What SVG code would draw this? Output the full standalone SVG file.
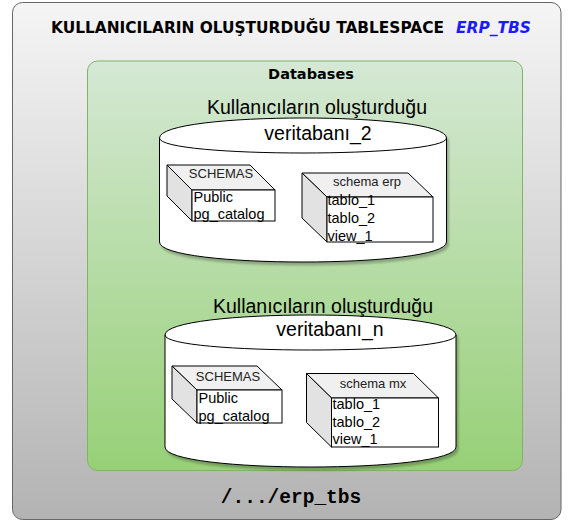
<svg xmlns="http://www.w3.org/2000/svg" width="574" height="523" viewBox="0 0 574 523">
  <defs>
    <linearGradient id="gGray" x1="0" y1="0" x2="0" y2="1">
      <stop offset="0" stop-color="#f5f5f5"/>
      <stop offset="1" stop-color="#b3b3b3"/>
    </linearGradient>
    <linearGradient id="gGreen" x1="0" y1="0" x2="0" y2="1">
      <stop offset="0" stop-color="#d5e8d4"/>
      <stop offset="1" stop-color="#97d077"/>
    </linearGradient>
    <filter id="shadow" x="-5%" y="-5%" width="115%" height="120%">
      <feDropShadow dx="2" dy="3" stdDeviation="1.2" flood-color="#000" flood-opacity="0.25"/>
    </filter>
  </defs>
  <style>
    .outer { fill: url(#gGray); stroke: #666666; stroke-width: 1; }
    .green { fill: url(#gGreen); stroke: #82b366; stroke-width: 1; }
    .cyl { fill: #ffffff; stroke: #000000; stroke-width: 1; }
    .cylin { fill: none; stroke: #000000; stroke-width: 1; }
    .top { fill: #f0f0f0; stroke: #000000; stroke-width: 1; stroke-linejoin: round; }
    .side { fill: #e2e2e2; stroke: #000000; stroke-width: 1; stroke-linejoin: round; }
    .front { fill: #ffffff; stroke: #000000; stroke-width: 1; }
    .title { font-family: "DejaVu Sans", Verdana, sans-serif; font-weight: bold; font-size: 15px; fill: #000000; }
    .erp { font-family: "DejaVu Sans", Verdana, sans-serif; font-weight: bold; font-style: italic; font-size: 15px; fill: #1a1aff; }
    .dbs { font-family: "DejaVu Sans", Verdana, sans-serif; font-weight: bold; font-size: 14.5px; fill: #000000; text-anchor: middle; }
    .big { font-family: "Liberation Sans", Arial, sans-serif; font-size: 19.5px; fill: #000000; text-anchor: middle; }
    .hdr { font-family: "Liberation Sans", Arial, sans-serif; font-size: 13px; fill: #222222; text-anchor: middle; }
    .item { font-family: "Liberation Sans", Arial, sans-serif; font-size: 14.5px; fill: #000000; }
    .path { font-family: "Liberation Mono", "Courier New", monospace; font-weight: bold; font-size: 19.5px; fill: #000000; text-anchor: middle; }
  </style>

  <g id="tablespace">
    <rect class="outer" x="12.5" y="2.5" width="548.5" height="517" rx="10" ry="10"/>
    <text class="title" x="51" y="33" textLength="393" lengthAdjust="spacingAndGlyphs">KULLANICILARIN OLUŞTURDUĞU TABLESPACE</text>
    <text class="erp" x="456" y="33" textLength="75" lengthAdjust="spacingAndGlyphs">ERP_TBS</text>
    <text class="path" x="291" y="503">/.../erp_tbs</text>
  </g>

  <g id="databases">
    <rect class="green" x="87.5" y="61" width="435" height="409.5" rx="10" ry="10"/>
    <text class="dbs" x="311" y="78.5">Databases</text>
  </g>

  <g id="db_veritabani_2">
    <path class="cyl" filter="url(#shadow)" d="M159.5,138 C159.5,111.33 446.5,111.33 446.5,138 L446.5,242 C446.5,268.67 159.5,268.67 159.5,242 Z"/>
    <path class="cylin" d="M159.5,138 C159.5,158 446.5,158 446.5,138"/>
    <text class="big" x="317" y="114">Kullanıcıların oluşturduğu</text>
    <text class="big" x="318" y="140">veritabanı_2</text>
  </g>

  <g id="schemas_1">
    <path class="top" d="M167,165 L250,165 L275,190 L192,190 Z"/>
    <path class="side" d="M167,165 L192,190 L192,221 L167,196 Z"/>
    <rect class="front" x="192" y="190" width="83" height="31"/>
    <text class="hdr" x="221" y="178">SCHEMAS</text>
    <text class="item" x="193.5" y="201.5">Public</text>
    <text class="item" x="193.5" y="219">pg_catalog</text>
  </g>

  <g id="schema_erp">
    <path class="top" d="M302,173 L408,173 L433,197 L327,197 Z"/>
    <path class="side" d="M302,173 L327,197 L327,242 L302,218 Z"/>
    <rect class="front" x="327" y="197" width="106" height="45"/>
    <text class="hdr" x="367" y="186">schema erp</text>
    <text class="item" x="327.5" y="205">tablo_1</text>
    <text class="item" x="327.5" y="223">tablo_2</text>
    <text class="item" x="327.5" y="240.5">view_1</text>
  </g>

  <g id="db_veritabani_n">
    <path class="cyl" filter="url(#shadow)" d="M165,335 C165,308.33 456,308.33 456,335 L456,447 C456,473.67 165,473.67 165,447 Z"/>
    <path class="cylin" d="M165,335 C165,355 456,355 456,335"/>
    <text class="big" x="323" y="312.5">Kullanıcıların oluşturduğu</text>
    <text class="big" x="330" y="336">veritabanı_n</text>
  </g>

  <g id="schemas_n">
    <path class="top" d="M172,366 L257,366 L282,390 L197,390 Z"/>
    <path class="side" d="M172,366 L197,390 L197,423 L172,399 Z"/>
    <rect class="front" x="197" y="390" width="85" height="33"/>
    <text class="hdr" x="228" y="381">SCHEMAS</text>
    <text class="item" x="198.5" y="402.5">Public</text>
    <text class="item" x="198.5" y="420.5">pg_catalog</text>
  </g>

  <g id="schema_mx">
    <path class="top" d="M306.5,373.5 L413.5,373.5 L438.5,398 L331.5,398 Z"/>
    <path class="side" d="M306.5,373.5 L331.5,398 L331.5,447 L306.5,422.5 Z"/>
    <rect class="front" x="331.5" y="398" width="107" height="49"/>
    <text class="hdr" x="373" y="388">schema mx</text>
    <text class="item" x="332.5" y="409">tablo_1</text>
    <text class="item" x="332.5" y="426.5">tablo_2</text>
    <text class="item" x="332.5" y="444">view_1</text>
  </g>

  <g id="connectors"/>
</svg>
